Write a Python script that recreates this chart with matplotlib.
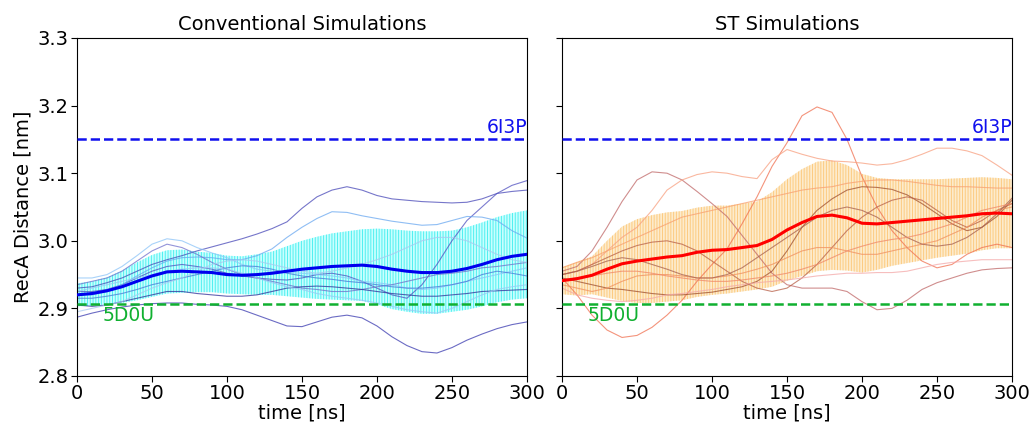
import numpy as np
import matplotlib
matplotlib.use('Agg')
import matplotlib.pyplot as plt

### tiempo de simulacion (ns), un punto cada 10 ns ###
tiempo = np.arange(0, 301, 10)

### distancias de referencia de las estructuras cristalinas (nm) ###
ref_6I3P = 3.15
ref_5D0U = 2.907

### Simulaciones convencionales: trayectorias individuales ###
conv_1 = [2.887, 2.893, 2.898, 2.902, 2.905, 2.907, 2.908, 2.908, 2.906, 2.905, 2.903, 2.898, 2.890, 2.882, 2.874, 2.873,
          2.880, 2.887, 2.890, 2.886, 2.874, 2.858, 2.845, 2.836, 2.834, 2.842, 2.853, 2.862, 2.870, 2.876, 2.880]
conv_2 = [2.930, 2.932, 2.938, 2.945, 2.955, 2.965, 2.972, 2.978, 2.985, 2.991, 2.997, 3.003, 3.010, 3.018, 3.028, 3.048,
          3.065, 3.075, 3.080, 3.075, 3.067, 3.062, 3.060, 3.058, 3.057, 3.056, 3.057, 3.062, 3.070, 3.073, 3.075]
conv_3 = [2.925, 2.925, 2.928, 2.935, 2.945, 2.955, 2.962, 2.965, 2.962, 2.958, 2.952, 2.948, 2.945, 2.943, 2.942, 2.945,
          2.950, 2.952, 2.948, 2.940, 2.930, 2.920, 2.915, 2.935, 2.965, 3.000, 3.030, 3.050, 3.070, 3.082, 3.089]
conv_4 = [2.920, 2.920, 2.925, 2.935, 2.948, 2.960, 2.970, 2.975, 2.976, 2.975, 2.972, 2.972, 2.978, 2.988, 3.005, 3.020,
          3.033, 3.043, 3.042, 3.037, 3.033, 3.029, 3.026, 3.023, 3.024, 3.030, 3.036, 3.035, 3.030, 3.015, 3.004]
conv_5 = [2.945, 2.945, 2.950, 2.962, 2.978, 2.995, 3.003, 3.000, 2.990, 2.982, 2.975, 2.965, 2.958, 2.955, 2.953, 2.952,
          2.950, 2.948, 2.945, 2.940, 2.938, 2.935, 2.930, 2.928, 2.930, 2.935, 2.940, 2.945, 2.950, 2.955, 2.960]
conv_6 = [2.935, 2.940, 2.945, 2.955, 2.970, 2.985, 2.995, 2.990, 2.980, 2.968, 2.958, 2.950, 2.945, 2.940, 2.935, 2.930,
          2.928, 2.925, 2.925, 2.928, 2.932, 2.935, 2.940, 2.945, 2.950, 2.952, 2.955, 2.960, 2.962, 2.965, 2.968]
conv_7 = [2.915, 2.915, 2.918, 2.922, 2.928, 2.935, 2.940, 2.945, 2.950, 2.955, 2.960, 2.963, 2.962, 2.958, 2.952, 2.948,
          2.945, 2.943, 2.940, 2.938, 2.935, 2.932, 2.930, 2.930, 2.932, 2.935, 2.940, 2.950, 2.955, 2.952, 2.948]
conv_8 = [2.905, 2.903, 2.905, 2.910, 2.915, 2.920, 2.925, 2.925, 2.922, 2.920, 2.918, 2.918, 2.920, 2.925, 2.930, 2.932,
          2.933, 2.932, 2.930, 2.928, 2.925, 2.922, 2.920, 2.918, 2.918, 2.920, 2.922, 2.925, 2.926, 2.927, 2.928]
conv_9 = [2.925, 2.930, 2.935, 2.940, 2.945, 2.950, 2.955, 2.958, 2.960, 2.960, 2.958, 2.952, 2.945, 2.938, 2.932, 2.928,
          2.922, 2.918, 2.915, 2.912, 2.908, 2.903, 2.898, 2.895, 2.893, 2.900, 2.910, 2.920, 2.928, 2.932, 2.935]
conv_10 = [2.895, 2.900, 2.905, 2.910, 2.920, 2.930, 2.938, 2.945, 2.955, 2.965, 2.970, 2.972, 2.970, 2.965, 2.960, 2.955,
           2.952, 2.955, 2.960, 2.965, 2.972, 2.980, 2.990, 3.000, 3.005, 3.005, 3.000, 2.990, 2.980, 2.972, 2.968]

### Simulaciones convencionales: promedio y desviacion estandar ###
conv_media = [2.920, 2.922, 2.926, 2.932, 2.940, 2.948, 2.954, 2.955, 2.954, 2.953, 2.950, 2.949, 2.950, 2.952, 2.955, 2.958,
              2.960, 2.962, 2.963, 2.964, 2.962, 2.958, 2.955, 2.953, 2.953, 2.955, 2.959, 2.965, 2.972, 2.977, 2.980]
conv_std = [0.017, 0.018, 0.020, 0.024, 0.028, 0.031, 0.032, 0.032, 0.030, 0.029, 0.028, 0.028, 0.030, 0.032, 0.037, 0.042,
            0.046, 0.049, 0.051, 0.053, 0.056, 0.059, 0.060, 0.061, 0.061, 0.060, 0.061, 0.062, 0.063, 0.064, 0.065]

### Simulaciones ST: trayectorias individuales ###
st_1 = [2.945, 2.920, 2.890, 2.868, 2.857, 2.860, 2.872, 2.890, 2.912, 2.940, 2.965, 2.988, 3.025, 3.065, 3.110, 3.145,
        3.185, 3.198, 3.190, 3.150, 3.095, 3.050, 3.015, 2.990, 2.970, 2.960, 2.965, 2.980, 2.990, 2.995, 2.990]
st_2 = [2.955, 2.962, 2.985, 3.020, 3.058, 3.090, 3.102, 3.100, 3.090, 3.073, 3.055, 3.036, 3.008, 2.980, 2.952, 2.935,
        2.930, 2.930, 2.930, 2.925, 2.910, 2.898, 2.900, 2.912, 2.928, 2.938, 2.945, 2.952, 2.957, 2.959, 2.960]
st_3 = [2.950, 2.955, 2.965, 2.985, 3.005, 3.020, 3.045, 3.075, 3.090, 3.098, 3.102, 3.100, 3.095, 3.092, 3.120, 3.135,
        3.128, 3.122, 3.118, 3.117, 3.115, 3.112, 3.114, 3.120, 3.128, 3.137, 3.137, 3.133, 3.126, 3.112, 3.097]
st_4 = [2.945, 2.940, 2.935, 2.930, 2.928, 2.925, 2.922, 2.920, 2.920, 2.922, 2.924, 2.928, 2.932, 2.940, 2.955, 2.985,
        3.020, 3.045, 3.062, 3.075, 3.080, 3.079, 3.076, 3.068, 3.055, 3.040, 3.025, 3.015, 3.020, 3.036, 3.060]
st_5 = [2.950, 2.955, 2.965, 2.975, 2.985, 2.993, 2.998, 3.000, 2.995, 2.985, 2.970, 2.955, 2.940, 2.930, 2.925, 2.930,
        2.945, 2.965, 2.990, 3.015, 3.035, 3.050, 3.060, 3.065, 3.060, 3.045, 3.030, 3.020, 3.030, 3.045, 3.055]
st_6 = [2.935, 2.930, 2.925, 2.930, 2.940, 2.948, 2.950, 2.950, 2.948, 2.945, 2.945, 2.948, 2.952, 2.958, 2.965, 2.975,
        2.985, 2.990, 2.990, 2.985, 2.980, 2.980, 2.985, 2.990, 2.995, 3.000, 3.010, 3.020, 3.035, 3.045, 3.050]
st_7 = [2.930, 2.920, 2.915, 2.912, 2.910, 2.912, 2.915, 2.920, 2.922, 2.925, 2.928, 2.932, 2.935, 2.938, 2.940, 2.942,
        2.945, 2.948, 2.950, 2.952, 2.952, 2.953, 2.953, 2.955, 2.960, 2.965, 2.968, 2.970, 2.972, 2.972, 2.972]
st_8 = [2.960, 2.968, 2.975, 2.985, 2.995, 3.005, 3.015, 3.025, 3.035, 3.040, 3.045, 3.050, 3.055, 3.060, 3.065, 3.070,
        3.075, 3.078, 3.080, 3.085, 3.088, 3.090, 3.090, 3.088, 3.085, 3.082, 3.080, 3.080, 3.079, 3.078, 3.078]
st_9 = [2.950, 2.955, 2.962, 2.970, 2.975, 2.972, 2.965, 2.958, 2.950, 2.945, 2.945, 2.950, 2.960, 2.975, 2.990, 3.005,
        3.020, 3.035, 3.045, 3.050, 3.045, 3.035, 3.020, 3.005, 2.995, 2.992, 2.995, 3.005, 3.020, 3.040, 3.063]
st_10 = [2.942, 2.945, 2.948, 2.952, 2.955, 2.955, 2.952, 2.948, 2.945, 2.942, 2.940, 2.940, 2.942, 2.945, 2.948, 2.952,
         2.958, 2.965, 2.975, 2.985, 2.992, 2.998, 3.002, 3.005, 3.010, 3.018, 3.025, 3.035, 3.045, 3.050, 3.055]

### Simulaciones ST: promedio y desviacion estandar ###
st_media = [2.941, 2.944, 2.949, 2.958, 2.966, 2.970, 2.973, 2.976, 2.978, 2.983, 2.986, 2.987, 2.990, 2.993, 3.002, 3.016,
            3.027, 3.036, 3.038, 3.034, 3.026, 3.025, 3.027, 3.029, 3.031, 3.033, 3.035, 3.037, 3.040, 3.041, 3.040]
st_std = [0.020, 0.025, 0.028, 0.042, 0.055, 0.062, 0.065, 0.066, 0.066, 0.066, 0.066, 0.065, 0.065, 0.065, 0.070, 0.075,
          0.079, 0.081, 0.081, 0.078, 0.073, 0.068, 0.064, 0.062, 0.060, 0.058, 0.057, 0.056, 0.054, 0.052, 0.051]

conv_trayectorias = [conv_1, conv_2, conv_3, conv_4, conv_5, conv_6, conv_7, conv_8, conv_9, conv_10]
st_trayectorias = [st_1, st_2, st_3, st_4, st_5, st_6, st_7, st_8, st_9, st_10]

colores_conv = ['#3a3ab0', '#4848b8', '#5050c0', '#6aa8f0', '#8cc4f8', '#7070cc', '#4a78d8', '#30309a', '#9ac8f5', '#a8c8f0']
colores_st = ['#f07050', '#c06868', '#f8a080', '#a05030', '#b86048', '#f09060', '#f4a8a8', '#f8a070', '#a86050', '#f08868']

plt.rcParams['font.size'] = 14
plt.rcParams['hatch.linewidth'] = 0.7

fig, (ax1, ax2) = plt.subplots(1, 2, sharey=True, figsize=(10.32, 4.26), dpi=100)
fig.subplots_adjust(left=0.0746, right=0.9806, bottom=0.1174, top=0.9108, wspace=0.078)


def panel(ax, trayectorias, colores, media, std, c_banda, c_rayas, c_media, titulo):
    media = np.array(media)
    std = np.array(std)
    ax.fill_between(tiempo, media - std, media + std, facecolor=c_banda, edgecolor=c_rayas,
                    hatch='||||||', linewidth=0, zorder=1)
    for datos, c in zip(trayectorias, colores):
        ax.plot(tiempo, datos, color=c, lw=0.8, alpha=0.75, zorder=2)
    ax.plot(tiempo, media, color=c_media, lw=2.2, zorder=3)
    ax.axhline(ref_6I3P, color='#1010ee', ls='--', lw=1.8, zorder=4)
    ax.axhline(ref_5D0U, color='#10b030', ls='--', lw=1.8, zorder=4)
    ax.text(300, ref_6I3P + 0.004, '6I3P', color='#1010ee', fontsize=13.5, ha='right', va='bottom')
    ax.text(17, ref_5D0U - 0.003, '5D0U', color='#10b030', fontsize=13.5, ha='left', va='top')
    ax.set_title(titulo, fontsize=14)
    ax.set_xlim(0, 300)
    ax.set_xticks(np.arange(0, 301, 50))
    ax.set_xlabel('time [ns]', fontsize=14, labelpad=0)
    ax.tick_params(labelsize=14, length=4, pad=2)


panel(ax1, conv_trayectorias, colores_conv, conv_media, conv_std, '#c8ffff', '#50f0f0', '#0000ee',
      'Conventional Simulations')
panel(ax2, st_trayectorias, colores_st, st_media, st_std, '#fdebcc', '#fccb80', '#ff0000',
      'ST Simulations')

ax1.set_ylim(2.8, 3.3)
ax1.set_yticks([2.8, 2.9, 3.0, 3.1, 3.2, 3.3])
ax1.set_ylabel('RecA Distance [nm]', fontsize=14)

plt.savefig('out.png', dpi=100)
